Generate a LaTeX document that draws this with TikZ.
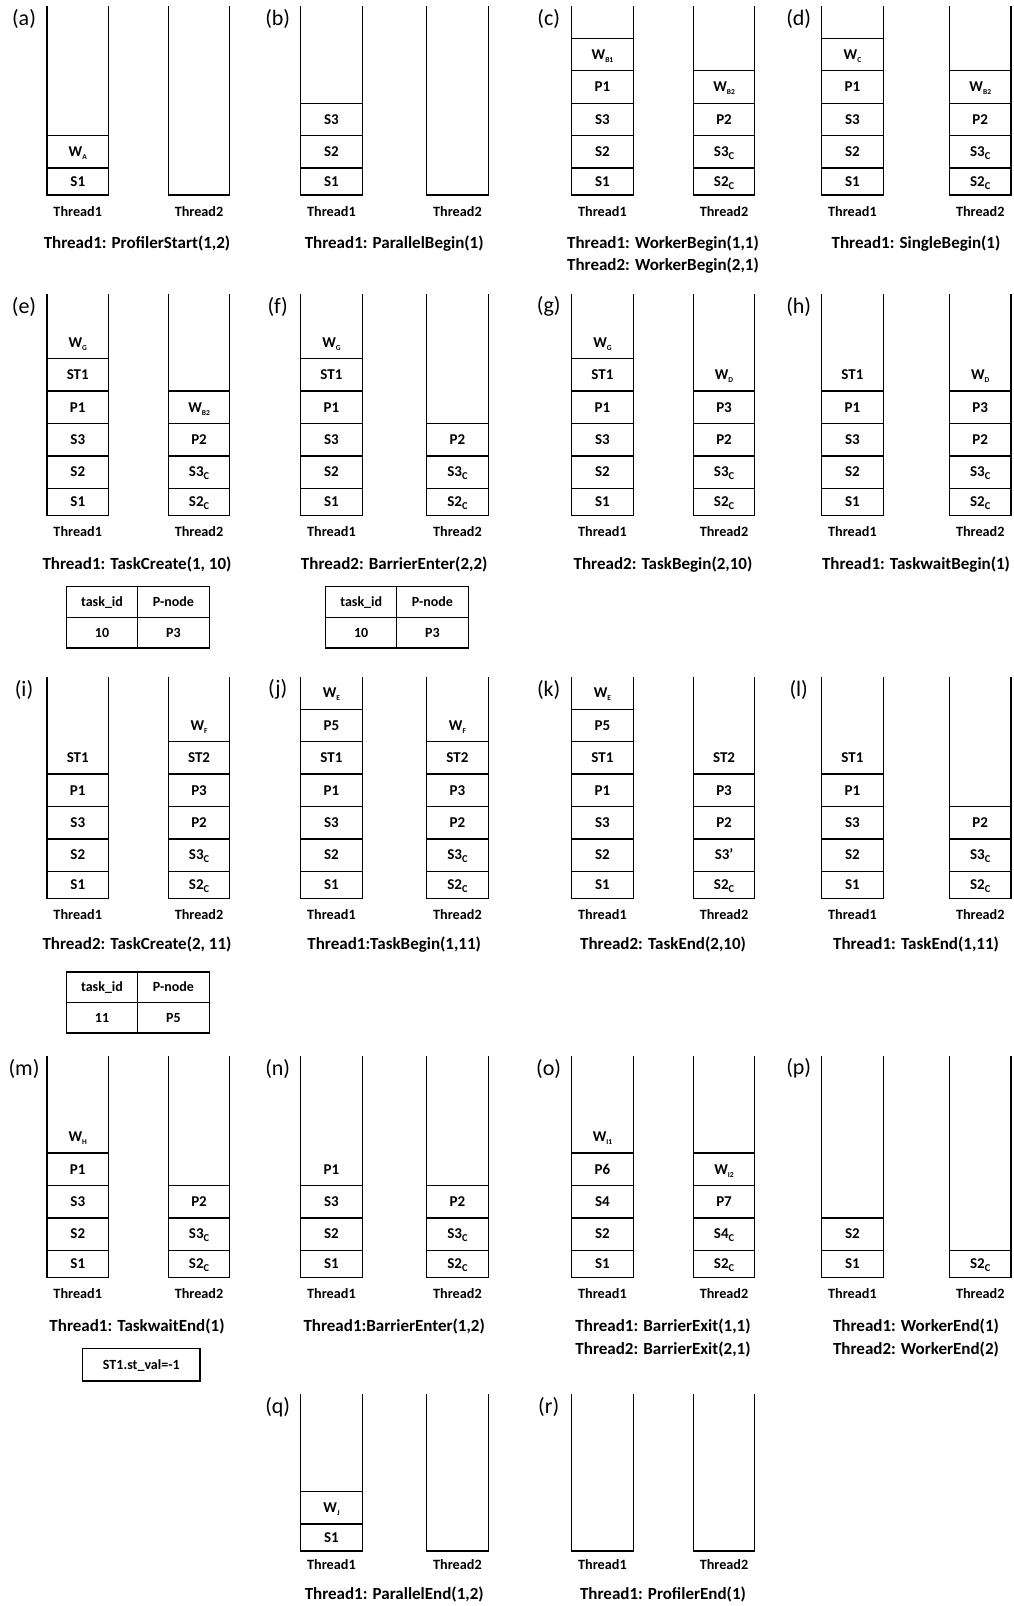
\documentclass[tikz,border=0pt]{standalone}
\usepackage{fontspec}
\setmainfont{Carlito}
\newcommand\ws[1]{\raisebox{-0.4ex}{\fontsize{7.5}{7.5}\selectfont #1}}
\newcommand\cs[1]{\raisebox{-0.4ex}{\fontsize{10.5}{10.5}\selectfont #1}}
\newcommand\cw{61.5}
\newcommand\lbloff{21}
\tikzset{x=1pt,y=-1pt,
 colline/.style={line width=1.3pt, line join=miter},
 celltxt/.style={font=\fontsize{15}{15}\selectfont\bfseries, anchor=base, inner sep=0pt},
 thrlbl/.style={font=\fontsize{14.2}{14.2}\selectfont\bfseries, anchor=base, inner sep=0pt},
 captxt/.style={font=\fontsize{17}{17}\selectfont\bfseries, anchor=base, inner sep=0pt},
 panlbl/.style={font=\fontsize{22}{22}\selectfont, inner sep=0pt},
 tabtxt/.style={font=\fontsize{14}{14}\selectfont\bfseries, anchor=base, inner sep=0pt}}
% #1 name, #2 x left, #3 bottom y, #4 top y, #5 label, #6 boxed items, #7 index of open top item, #8 open top item
\newcommand\thrcol[8]{%
  \draw[colline] (#2,#4) -- (#2,#3) -- (#2+\cw,#3) -- (#2+\cw,#4);
  \node[thrlbl] (#1-lbl) at (#2+\cw/2,#3+\lbloff) {#5};
  \if\relax\detokenize{#6}\relax\else
  \foreach \t [count=\i from 0] in {#6} {
    \pgfmathsetmacro\ytop{#3-27-\i*32.4}
    \pgfmathsetmacro\ybot{\i==0 ? #3 : #3-27-(\i-1)*32.4}
    \draw[colline] (#2,\ytop) -- (#2+\cw,\ytop);
    \node[celltxt] (#1-\i) at (#2+\cw/2, {(\ytop+\ybot)/2+4.8}) {\t};
  }\fi
  \if\relax\detokenize{#8}\relax\else
    \pgfmathsetmacro\ytop{#3-27-#7*32.4}
    \node[celltxt] (#1-top) at (#2+\cw/2, \ytop+21) {#8};
  \fi
}
% #1 name, #2 x1, #3 x2, #4 bottom, #5 top, #6 letter
\newcommand\panelframe[6]{%
  \node[panlbl] (#1-plab) at (#2-23,#5+13) {(#6)};
}
\newcommand\capline[4]{% name, center x, base y, text
  \node[captxt] (#1) at (#2,#3) {#4};
}
\newcommand\tasktable[8]{% name, x1, xm, x2, ytop, ymid, ybot, id
  \draw[colline] (#2,#5) rectangle (#4,#7);
  \draw[colline] (#2,#6) -- (#4,#6);
  \draw[colline] (#3,#5) -- (#3,#7);
  \node[tabtxt] (#1-h1) at ({(#2+#3)/2},{(#5+#6)/2+4.5}) {task\_id};
  \node[tabtxt] (#1-h2) at ({(#3+#4)/2},{(#5+#6)/2+4.5}) {P-node};
  \node[tabtxt] (#1-v1) at ({(#2+#3)/2},{(#6+#7)/2+4.5}) {#8};
}
\begin{document}
\begin{tikzpicture}
\useasboundingbox (0,0) rectangle (1013,1606);
% ---------- row 1 ----------
\panelframe{a}{47}{168.3}{195}{6}{a}
\thrcol{a1}{47}{195}{6}{Thread1}{S1,W\ws{A}}{}{}
\thrcol{a2}{168.3}{195}{6}{Thread2}{}{}{}
\capline{a-cap}{137}{248}{Thread1: ProfilerStart(1,2)}

\panelframe{b}{300.7}{426.7}{195}{6}{b}
\thrcol{b1}{300.7}{195}{6}{Thread1}{S1,S2,S3}{}{}
\thrcol{b2}{426.7}{195}{6}{Thread2}{}{}{}
\capline{b-cap}{394.2}{248}{Thread1: ParallelBegin(1)}

\panelframe{c}{571.7}{693.3}{195}{6}{c}
\thrcol{c1}{571.7}{195}{6}{Thread1}{S1,S2,S3,P1,W\ws{B1}}{}{}
\thrcol{c2}{693.3}{195}{6}{Thread2}{S2\cs{C},S3\cs{C},P2,W\ws{B2}}{}{}
\capline{c-cap}{663}{248}{Thread1: WorkerBegin(1,1)}
\capline{c-cap2}{663}{270.5}{Thread2: WorkerBegin(2,1)}

\panelframe{d}{821.7}{949.5}{195}{6}{d}
\thrcol{d1}{821.7}{195}{6}{Thread1}{S1,S2,S3,P1,W\ws{C}}{}{}
\thrcol{d2}{949.5}{195}{6}{Thread2}{S2\cs{C},S3\cs{C},P2,W\ws{B2}}{}{}
\capline{d-cap}{916}{248}{Thread1: SingleBegin(1)}

% ---------- row 2 ----------
\panelframe{e}{47}{168.3}{515.3}{293.6}{e}
\thrcol{e1}{47}{515.3}{293.6}{Thread1}{S1,S2,S3,P1,ST1}{5}{W\ws{G}}
\thrcol{e2}{168.3}{515.3}{293.6}{Thread2}{S2\cs{C},S3\cs{C},P2,W\ws{B2}}{}{}
\capline{e-cap}{137}{569.5}{Thread1: TaskCreate(1, 10)}
\tasktable{etab}{66.5}{137.5}{209.3}{586.7}{617.3}{648}{10}
\node[tabtxt] (etab-v2) at ({(137.5+209.3)/2},{(617.3+648)/2+4.5}) {P3};

\panelframe{f}{300.7}{426.7}{515.3}{293.6}{f}
\thrcol{f1}{300.7}{515.3}{293.6}{Thread1}{S1,S2,S3,P1,ST1}{5}{W\ws{G}}
\thrcol{f2}{426.7}{515.3}{293.6}{Thread2}{S2\cs{C},S3\cs{C},P2}{}{}
\capline{f-cap}{394.2}{569.5}{Thread2: BarrierEnter(2,2)}
\tasktable{ftab}{325.7}{396.7}{468.3}{586.7}{617.3}{648}{10}
\node[tabtxt] (ftab-v2) at ({(396.7+468.3)/2},{(617.3+648)/2+4.5}) {P3};

\panelframe{g}{571.7}{693.3}{515.3}{293.6}{g}
\thrcol{g1}{571.7}{515.3}{293.6}{Thread1}{S1,S2,S3,P1,ST1}{5}{W\ws{G}}
\thrcol{g2}{693.3}{515.3}{293.6}{Thread2}{S2\cs{C},S3\cs{C},P2,P3}{4}{W\ws{D}}
\capline{g-cap}{663}{569.5}{Thread2: TaskBegin(2,10)}

\panelframe{h}{821.7}{949.5}{515.3}{293.6}{h}
\thrcol{h1}{821.7}{515.3}{293.6}{Thread1}{S1,S2,S3,P1}{4}{ST1}
\thrcol{h2}{949.5}{515.3}{293.6}{Thread2}{S2\cs{C},S3\cs{C},P2,P3}{4}{W\ws{D}}
\capline{h-cap}{916}{569.5}{Thread1: TaskwaitBegin(1)}

% ---------- row 3 ----------
\panelframe{i}{47}{168.3}{898.3}{676.6}{i}
\thrcol{i1}{47}{898.3}{676.6}{Thread1}{S1,S2,S3,P1}{4}{ST1}
\thrcol{i2}{168.3}{898.3}{676.6}{Thread2}{S2\cs{C},S3\cs{C},P2,P3,ST2}{5}{W\ws{F}}
\capline{i-cap}{137}{949.5}{Thread2: TaskCreate(2, 11)}
\tasktable{itab}{66.5}{137.5}{209.3}{972}{1002.5}{1033}{11}
\node[tabtxt] (itab-v2) at ({(137.5+209.3)/2},{(1002.5+1033)/2+4.5}) {P5};

\panelframe{j}{300.7}{426.7}{898.3}{676.6}{j}
\thrcol{j1}{300.7}{898.3}{676.6}{Thread1}{S1,S2,S3,P1,ST1,P5}{6}{W\ws{E}}
\thrcol{j2}{426.7}{898.3}{676.6}{Thread2}{S2\cs{C},S3\cs{C},P2,P3,ST2}{5}{W\ws{F}}
\capline{j-cap}{394.2}{949.5}{Thread1:TaskBegin(1,11)}

\panelframe{k}{571.7}{693.3}{898.3}{676.6}{k}
\thrcol{k1}{571.7}{898.3}{676.6}{Thread1}{S1,S2,S3,P1,ST1,P5}{6}{W\ws{E}}
\thrcol{k2}{693.3}{898.3}{676.6}{Thread2}{S2\cs{C},S3’,P2,P3}{4}{ST2}
\capline{k-cap}{663}{949.5}{Thread2: TaskEnd(2,10)}

\panelframe{l}{821.7}{949.5}{898.3}{676.6}{l}
\thrcol{l1}{821.7}{898.3}{676.6}{Thread1}{S1,S2,S3,P1}{4}{ST1}
\thrcol{l2}{949.5}{898.3}{676.6}{Thread2}{S2\cs{C},S3\cs{C},P2}{}{}
\capline{l-cap}{916}{949.5}{Thread1: TaskEnd(1,11)}

% ---------- row 4 ----------
\panelframe{m}{47}{168.3}{1277.3}{1055.6}{m}
\thrcol{m1}{47}{1277.3}{1055.6}{Thread1}{S1,S2,S3,P1}{4}{W\ws{H}}
\thrcol{m2}{168.3}{1277.3}{1055.6}{Thread2}{S2\cs{C},S3\cs{C},P2}{}{}
\capline{m-cap}{137}{1331.5}{Thread1: TaskwaitEnd(1)}
\draw[colline] (82.7,1348.5) rectangle (200,1381);
\node[tabtxt] (m-box) at (141.3,1369.5) {ST1.st\_val=-1};

\panelframe{n}{300.7}{426.7}{1277.3}{1055.6}{n}
\thrcol{n1}{300.7}{1277.3}{1055.6}{Thread1}{S1,S2,S3}{3}{P1}
\thrcol{n2}{426.7}{1277.3}{1055.6}{Thread2}{S2\cs{C},S3\cs{C},P2}{}{}
\capline{n-cap}{394.2}{1331.5}{Thread1:BarrierEnter(1,2)}

\panelframe{o}{571.7}{693.3}{1277.3}{1055.6}{o}
\thrcol{o1}{571.7}{1277.3}{1055.6}{Thread1}{S1,S2,S4,P6}{4}{W\ws{I1}}
\thrcol{o2}{693.3}{1277.3}{1055.6}{Thread2}{S2\cs{C},S4\cs{C},P7,W\ws{I2}}{}{}
\capline{o-cap}{663}{1331.5}{Thread1: BarrierExit(1,1)}
\capline{o-cap2}{663}{1354}{Thread2: BarrierExit(2,1)}

\panelframe{p}{821.7}{949.5}{1277.3}{1055.6}{p}
\thrcol{p1}{821.7}{1277.3}{1055.6}{Thread1}{S1,S2}{}{}
\thrcol{p2}{949.5}{1277.3}{1055.6}{Thread2}{S2\cs{C}}{}{}
\capline{p-cap}{916}{1331.5}{Thread1: WorkerEnd(1)}
\capline{p-cap2}{916}{1354}{Thread2: WorkerEnd(2)}

% ---------- row 5 ----------
\renewcommand\lbloff{18.5}
\panelframe{q}{300.7}{426.7}{1551}{1394.3}{q}
\thrcol{q1}{300.7}{1551}{1394.3}{Thread1}{S1,W\ws{J}}{}{}
\thrcol{q2}{426.7}{1551}{1394.3}{Thread2}{}{}{}
\capline{q-cap}{394.2}{1599.5}{Thread1: ParallelEnd(1,2)}

\panelframe{r}{571.7}{693.3}{1551}{1394.3}{r}
\thrcol{r1}{571.7}{1551}{1394.3}{Thread1}{}{}{}
\thrcol{r2}{693.3}{1551}{1394.3}{Thread2}{}{}{}
\capline{r-cap}{663}{1599.5}{Thread1: ProfilerEnd(1)}
\end{tikzpicture}
\end{document}
